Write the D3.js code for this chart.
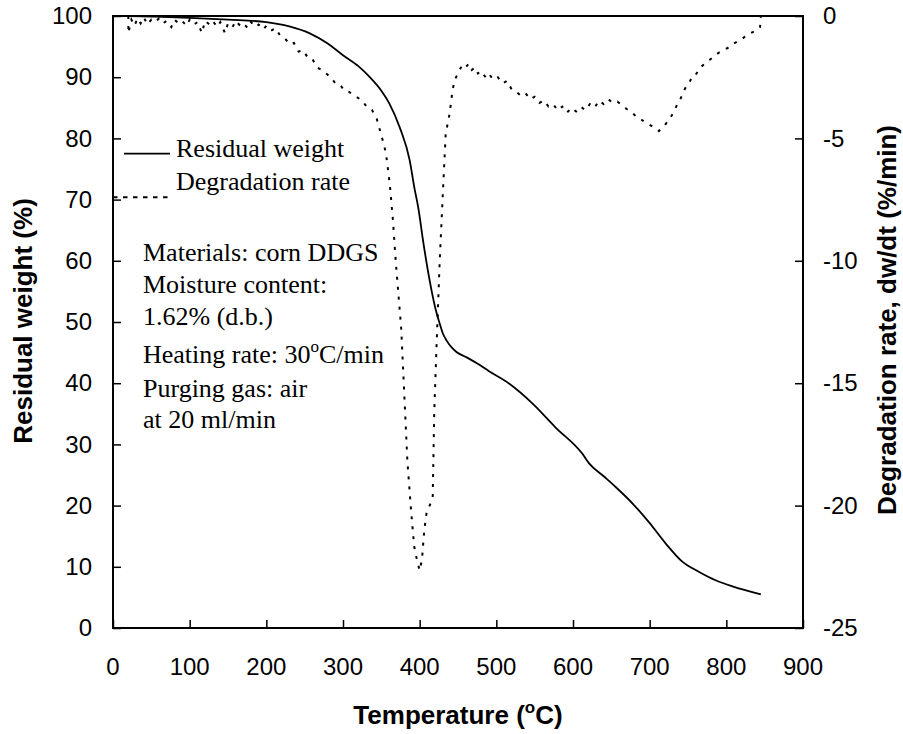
<!DOCTYPE html>
<html>
<head>
<meta charset="utf-8">
<script src="https://cdn.jsdelivr.net/npm/d3@7"></script>
<style>
  html, body { margin: 0; padding: 0; background: #fff; overflow: hidden; }
  svg { display: block; }
  .axis line { stroke: #000; stroke-width: 1.5; }
  .tick-label { font-family: "Liberation Sans", Arial, sans-serif; font-size: 24px; }
  .title { font-family: "Liberation Sans", Arial, sans-serif; font-size: 26px; font-weight: bold; }
  .note { font-family: "Liberation Serif", "Times New Roman", serif; font-size: 26px; }
</style>
</head>
<body>
<div id="chart"></div>
<script>
// residual weight (%) vs temperature (C)
const weightTemp = [20, 50, 100, 150, 200, 230, 256, 280, 300, 320, 335, 350, 360, 374, 387, 393, 398, 405, 413, 420, 426, 430, 435, 442, 448, 460, 478, 490, 517, 547, 577, 612, 621, 640, 656, 678, 699, 721, 743, 764, 786, 808, 845]
const weight = [100, 99.9, 99.7, 99.4, 99.0, 98.3, 97.2, 95.5, 93.6, 91.8, 90, 87.8, 85.8, 81.8, 76.4, 72, 68.8, 62.8, 56.8, 52.5, 49.8, 48.2, 47.0, 45.8, 45.1, 44.3, 43.0, 42.0, 39.9, 36.7, 32.8, 28.5, 26.9, 24.8, 23.0, 20.3, 17.3, 13.8, 10.8, 9.2, 7.8, 6.8, 5.5]

// degradation rate dw/dt (%/min) vs temperature (C)
const rateTemp = [20, 20, 24, 28, 32, 36, 40, 45, 50, 55, 60, 65, 70, 76, 80, 86, 90, 96, 100, 106, 110, 116, 120, 126, 130, 136, 140, 146, 150, 156, 160, 166, 170, 176, 180, 186, 190, 196, 200, 206, 212, 218, 224, 230, 236, 242, 248, 254, 260, 266, 272, 278, 284, 290, 296, 302, 308, 314, 320, 326, 332, 338, 344, 348, 352, 356, 361, 365, 369, 376, 380, 384, 389, 393, 397, 400, 403, 406, 409, 413, 417, 419, 422, 426, 430, 434, 439, 443, 446, 452, 456, 460, 464, 468, 472, 476, 480, 486, 490, 496, 502, 508, 514, 520, 526, 532, 538, 544, 550, 556, 562, 568, 574, 580, 586, 592, 598, 604, 610, 616, 622, 628, 634, 640, 646, 652, 658, 664, 670, 676, 682, 688, 694, 700, 706, 712, 716, 720, 726, 732, 736, 740, 744, 748, 752, 756, 760, 766, 772, 778, 784, 790, 796, 802, 808, 814, 820, 826, 832, 838, 844, 845]
const rate = [0, -0.7, -0.15, -0.4, -0.1, -0.3, -0.05, -0.35, -0.15, -0.25, -0.1, -0.3, -0.2, -0.45, -0.15, -0.3, -0.2, -0.4, -0.15, -0.35, -0.25, -0.7, -0.2, -0.35, -0.2, -0.45, -0.25, -0.7, -0.3, -0.45, -0.2, -0.4, -0.3, -0.5, -0.25, -0.45, -0.35, -0.55, -0.4, -0.6, -0.5, -0.8, -0.9, -1.15, -1.1, -1.45, -1.4, -1.7, -1.75, -2.1, -2.2, -2.35, -2.5, -2.75, -2.8, -3.05, -3.1, -3.25, -3.35, -3.5, -3.75, -3.85, -4.2, -4.65, -5.1, -5.6, -6.85, -8.3, -10.1, -12.8, -15.5, -18.2, -20.3, -21.7, -22.3, -22.65, -22.2, -21.0, -20.3, -20.0, -19.7, -16.2, -13.5, -10.1, -7.4, -4.8, -4.0, -3.0, -2.6, -2.2, -2.0, -2.1, -1.95, -2.2, -2.1, -2.35, -2.25, -2.5, -2.35, -2.6, -2.5, -2.75, -2.65, -3.0, -3.1, -3.25, -3.15, -3.4, -3.3, -3.55, -3.45, -3.7, -3.6, -3.85, -3.7, -3.95, -3.75, -3.9, -3.7, -3.85, -3.6, -3.75, -3.45, -3.6, -3.4, -3.55, -3.5, -3.65, -3.8, -3.9, -4.1, -4.2, -4.35, -4.45, -4.55, -4.7, -4.55, -4.45, -4.2, -3.9, -3.6, -3.4, -3.1, -2.85, -2.7, -2.45, -2.4, -2.1, -1.95, -1.8, -1.65, -1.5, -1.4, -1.3, -1.15, -1.05, -0.95, -0.8, -0.7, -0.6, -0.45, 0]

const xTicks = [0, 100, 200, 300, 400, 500, 600, 700, 800, 900]
const leftTicks = [0, 10, 20, 30, 40, 50, 60, 70, 80, 90, 100]
const rightTicks = [-25, -20, -15, -10, -5, 0]

const legendLabels = ['Residual weight', 'Degradation rate']
const noteLines = ['Materials: corn DDGS', 'Moisture content:', '1.62% (d.b.)', 'Heating rate: 30|C/min', 'Purging gas: air', 'at 20 ml/min']

const svgWidth = 903, svgHeight = 734
const margin = {top: 16, right: 100, bottom: 106, left: 113}
const innerWidth = 690
const innerHeight = 612

const svg = d3.select('#chart').append('svg')
    .attr('width', svgWidth)
    .attr('height', svgHeight)

const g = svg.append('g')
    .attr('transform', `translate(${margin.left},${margin.top})`)

const xScale = d3.scaleLinear().domain([0, 900]).range([margin.left, margin.left + innerWidth])
const yLeft = d3.scaleLinear().domain([0, 100]).range([margin.top + innerHeight, margin.top])
const yRight = d3.scaleLinear().domain([-25, 0]).range([margin.top + innerHeight, margin.top])

// axes: ticks point inward, labels drawn separately
const yAxisG = svg.append('g').attr('class', 'axis')
    .attr('transform', `translate(${margin.left},0)`)
    .call(d3.axisLeft(yLeft).tickValues(leftTicks).tickFormat('').tickSize(-8))
yAxisG.select('.domain').remove()

const y2AxisG = svg.append('g').attr('class', 'axis')
    .attr('transform', `translate(${margin.left + innerWidth},0)`)
    .call(d3.axisRight(yRight).tickValues(rightTicks).tickFormat('').tickSize(-8))
y2AxisG.select('.domain').remove()

const xAxisG = svg.append('g').attr('class', 'axis')
    .attr('transform', `translate(0,${margin.top + innerHeight})`)
    .call(d3.axisBottom(xScale).tickValues(xTicks).tickFormat('').tickSize(-8))
xAxisG.select('.domain').remove()

const labels = svg.append('g').attr('class', 'tick-label')
labels.selectAll('.yl').data(leftTicks).enter().append('text')
    .attr('x', margin.left - 21)
    .attr('y', d => yLeft(d))
    .attr('dy', '0.34em')
    .attr('text-anchor', 'end')
    .text(d => d)
labels.selectAll('.yr').data(rightTicks).enter().append('text')
    .attr('x', margin.left + innerWidth + 20)
    .attr('y', d => yRight(d))
    .attr('dy', '0.34em')
    .text(d => String(d))   // hyphen minus like the original
labels.selectAll('.xl').data(xTicks).enter().append('text')
    .attr('x', d => xScale(d))
    .attr('y', margin.top + innerHeight + 47)
    .attr('text-anchor', 'middle')
    .text(d => d)

// frame
g.append('rect')
    .attr('width', innerWidth)
    .attr('height', innerHeight)
    .attr('fill', 'none')
    .attr('stroke', 'black')
    .attr('stroke-width', 2)

// curves
const weightLine = d3.line()
    .x((d, i) => xScale(weightTemp[i]))
    .y(d => yLeft(d))
    .curve(d3.curveMonotoneX)

svg.append('path')
    .datum(weight)
    .attr('d', weightLine)
    .attr('fill', 'none')
    .attr('stroke', 'black')
    .attr('stroke-width', 1.8)

const rateLine = d3.line()
    .x((d, i) => xScale(rateTemp[i]))
    .y(d => yRight(d))

svg.append('path')
    .datum(rate)
    .attr('d', rateLine)
    .attr('fill', 'none')
    .attr('stroke', 'black')
    .attr('stroke-width', 2)
    .attr('stroke-dasharray', '3,7')

// axis titles
svg.append('text')
    .attr('class', 'title')
    .attr('text-anchor', 'middle')
    .attr('transform', 'translate(31.5,321) rotate(-90)')
    .text('Residual weight (%)')

svg.append('text')
    .attr('class', 'title')
    .attr('text-anchor', 'middle')
    .attr('transform', 'translate(895.5,320) rotate(-90)')
    .text('Degradation rate, dw/dt (%/min)')

const xTitle = svg.append('text')
    .attr('class', 'title')
    .attr('text-anchor', 'middle')
    .attr('x', margin.left + innerWidth / 2)
    .attr('y', 724)
xTitle.append('tspan').text('Temperature (')
xTitle.append('tspan').attr('font-size', 17).attr('dy', -11).text('o')
xTitle.append('tspan').attr('dy', 11).text('C)')

// legend
svg.append('line')
    .attr('x1', margin.left + 11).attr('x2', margin.left + 57)
    .attr('y1', yLeft(77.5)).attr('y2', yLeft(77.5))
    .attr('stroke', 'black').attr('stroke-width', 1.8)
svg.append('line')
    .attr('x1', margin.left).attr('x2', margin.left + 59)
    .attr('y1', yLeft(70.4)).attr('y2', yLeft(70.4))
    .attr('stroke', 'black').attr('stroke-width', 2)
    .attr('stroke-dasharray', '4.5,5.5')

svg.append('g').selectAll('text').data(legendLabels)
    .enter()
    .append('text')
    .attr('class', 'note')
    .attr('x', 176)
    .attr('y', (d, i) => 157 + i * 32.5)
    .text(d => d)

// notes
const noteY = [261, 293, 325, 363, 397, 428]
const notes = svg.append('g')
noteLines.forEach((line, i) => {
    const t = notes.append('text')
        .attr('class', 'note')
        .attr('x', 143)
        .attr('y', noteY[i])
    const parts = line.split('|')
    t.append('tspan').text(parts[0])
    if (parts.length > 1) {
        t.append('tspan').attr('font-size', 17).attr('dy', -11).text('o')
        t.append('tspan').attr('dy', 11).text(parts[1])
    }
})
</script>
</body>
</html>
